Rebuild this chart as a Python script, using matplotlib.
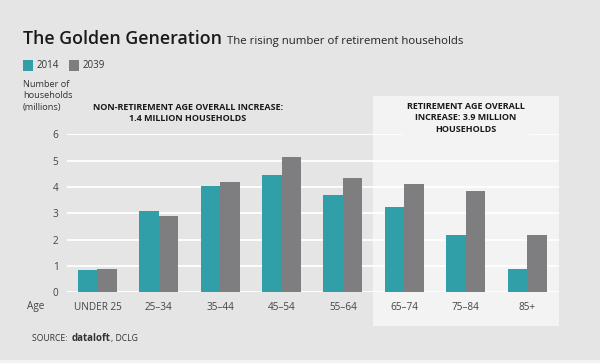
import matplotlib
matplotlib.use("Agg")
import matplotlib.pyplot as plt
from matplotlib.patches import Rectangle
import numpy as np

categories = ["UNDER 25", "25–34", "35–44", "45–54", "55–64", "65–74", "75–84", "85+"]
series_names = ["2014", "2039"]
values_2014 = [0.83, 3.10, 4.04, 4.44, 3.68, 3.24, 2.16, 0.90]
values_2039 = [0.90, 2.89, 4.19, 5.13, 4.34, 4.12, 3.86, 2.16]
y_ticks = [0, 1, 2, 3, 4, 5, 6]

BG = "#e6e5e6"
BOX = "#f3f3f3"
TEAL = "#309fa8"
GREY = "#7e7e81"
DARK = "#1a1a1a"
FONT = "Open Sans"
plt.rcParams["font.family"] = [FONT, "DejaVu Sans"]

W, H = 600, 363
fig = plt.figure(figsize=(W / 100, H / 100), dpi=100, facecolor=BG)

def fx(px):
    return px / W

def fy(py):
    return 1 - py / H

# bottom light strip
fig.patches.append(Rectangle((0, 0), 1, fy(360), transform=fig.transFigure,
                             facecolor="#f2f2f2", edgecolor="none", zorder=-2))
# retirement highlight box
fig.patches.append(Rectangle((fx(373), fy(326)), fx(559) - fx(373), fy(96) - fy(326),
                             transform=fig.transFigure, facecolor=BOX,
                             edgecolor="none", zorder=-1))

ax = fig.add_axes([fx(66.7), fy(292.3), fx(559) - fx(66.7), fy(134.3) - fy(292.3)])
ax.set_facecolor("none")
x = np.arange(len(categories))
bw = 0.318
ax.bar(x - bw / 2, values_2014, bw, color=TEAL, zorder=3)
ax.bar(x + bw / 2, values_2039, bw, color=GREY, zorder=3)
ax.set_xlim(-0.5, len(categories) - 0.48)
ax.set_ylim(0, 6)
ax.set_yticks(y_ticks)
ax.yaxis.grid(True, color="white", linewidth=1.3, zorder=1)
ax.set_axisbelow(True)
for s in ax.spines.values():
    s.set_visible(False)
ax.tick_params(length=0)
ax.tick_params(axis="y", pad=6, labelsize=7.2, labelcolor="#444444")
ax.tick_params(axis="x", pad=7, labelsize=7.2, labelcolor="#444444")
ax.set_xticks(x)
ax.set_xticklabels(categories)

# Title
t = fig.text(fx(23), fy(44), "The Golden Generation", fontsize=12.8, fontweight="semibold",
             color=DARK, va="baseline", ha="left")
fig.canvas.draw()
r = fig.canvas.get_renderer()
bb = t.get_window_extent(r)
fig.text(bb.x1 / W + fx(5), fy(44), "The rising number of retirement households",
         fontsize=8.2, color="#222222", va="baseline", ha="left")

# Legend
for sx, col, lab in [(23, TEAL, series_names[0]), (69, GREY, series_names[1])]:
    fig.patches.append(Rectangle((fx(sx), fy(70.5)), fx(10), fy(60) - fy(70.5),
                                 transform=fig.transFigure, facecolor=col, edgecolor="none"))
    fig.text(fx(sx + 14), fy(65.5), lab, fontsize=7, color="#333333", va="center", ha="left")

# Y-axis label
fig.text(fx(23), fy(96), "Number of\nhouseholds\n(millions)", fontsize=6.6, color="#333333",
         va="center", ha="left", linespacing=1.3)

# Annotations
fig.text(fx(188), fy(113), "NON-RETIREMENT AGE OVERALL INCREASE:\n1.4 MILLION HOUSEHOLDS",
         fontsize=6.5, fontweight="bold", color=DARK, va="center", ha="center", linespacing=1.3)
fig.text(fx(466), fy(118), "RETIREMENT AGE OVERALL\nINCREASE: 3.9 MILLION\nHOUSEHOLDS",
         fontsize=6.5, fontweight="bold", color=DARK, va="center", ha="center", linespacing=1.3,
         bbox=dict(facecolor=BOX, edgecolor="none", pad=3))

# Age label
fig.text(fx(27), fy(307), "Age", fontsize=7.2, color="#444444", va="center", ha="left")

# Source
parts = [("SOURCE: ", "normal", 6.2), ("dataloft", "bold", 7), (", DCLG", "normal", 6.2)]
cx = 32
for txt, wt, sz in parts:
    tt = fig.text(fx(cx), fy(341), txt, fontsize=sz, fontweight=wt, color="#333333",
                  va="baseline", ha="left")
    fig.canvas.draw()
    b = tt.get_window_extent(fig.canvas.get_renderer())
    cx = b.x1 + (2 if txt.endswith(" ") else 0)

fig.savefig("out.png", dpi=100, facecolor=BG)
